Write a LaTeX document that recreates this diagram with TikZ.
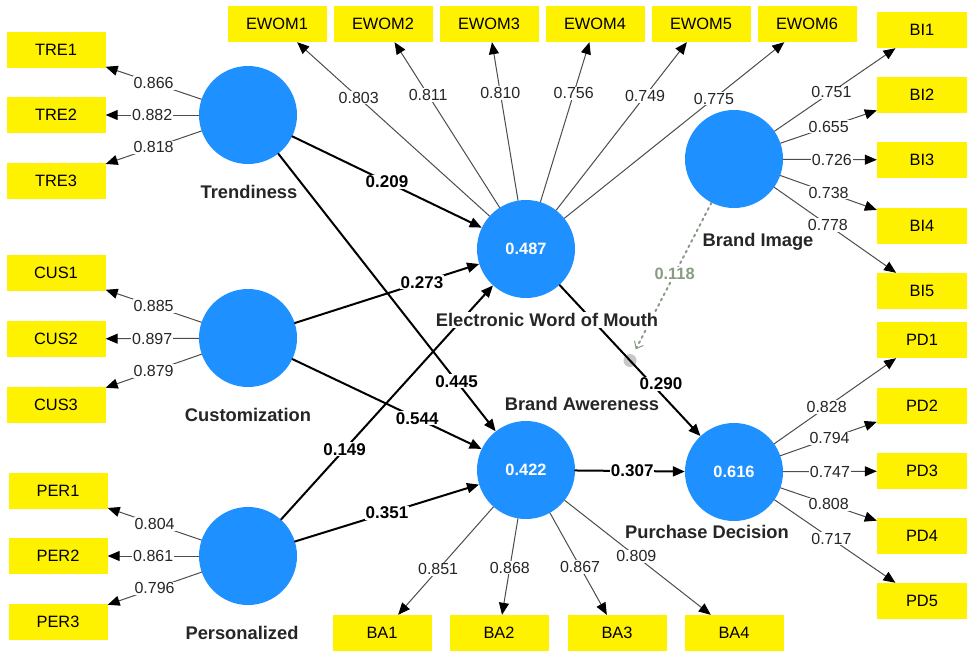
\documentclass[tikz,border=0pt]{standalone}
\usepackage{fontspec}
\setmainfont{Liberation Sans}
\usetikzlibrary{arrows.meta,calc}
\definecolor{plsblue}{RGB}{30,144,255}
\definecolor{modgreen}{RGB}{136,156,132}
\begin{document}
\begin{tikzpicture}[x=1pt, y=-1pt, line cap=round, line join=round, >={Triangle[length=12pt,width=10pt,color=black]}]
	\tikzset{lat/.style={circle, fill=plsblue, minimum size=98pt, inner sep=0pt, text=white, font=\bfseries\fontsize{16.4}{18}\selectfont},
		ind/.style={rectangle, fill=yellow, minimum width=99pt, minimum height=36pt, inner sep=0pt, font=\fontsize{16.4}{18}\selectfont},
		indr/.style={ind, minimum width=90pt},
		load/.style={draw=black!70, line width=1pt},
		struct/.style={draw=black, line width=2pt},
		val/.style={fill=white, inner sep=1pt, text=black!85, font=\fontsize{16}{18}\selectfont},
		coef/.style={fill=white, inner sep=1pt, font=\bfseries\fontsize{17}{19}\selectfont},
		latname/.style={fill=white, inner sep=1pt, text=black!85, font=\bfseries\fontsize{18.3}{20}\selectfont}}
	\useasboundingbox (0,0) rectangle (967,651);
	\node[lat] (tre) at (248,115) {};
	\node[lat] (cus) at (248,338) {};
	\node[lat] (per) at (248,556) {};
	\node[lat] (ewom) at (526,249) {0.487};
	\node[lat] (ba) at (526,470) {0.422};
	\node[lat] (pd) at (734,472) {0.616};
	\node[lat] (bi) at (734,159) {};
	\node[circle, fill=black!22, minimum size=13pt, inner sep=0pt] (mod) at ($(ewom)!0.5!(pd)$) {};
	\foreach \i/\y/\v in {1/50/0.866, 2/115/0.882, 3/181/0.818}{
		\node[ind] (tre\i) at (56,\y) {TRE\i};
		\draw[load,->] (tre) -- node[val]{\v} (tre\i);
	}
	\foreach \i/\y/\v in {1/273/0.885, 2/339/0.897, 3/405/0.879}{
		\node[ind] (cus\i) at (56,\y) {CUS\i};
		\draw[load,->] (cus) -- node[val]{\v} (cus\i);
	}
	\foreach \i/\y/\v in {1/491/0.804, 2/556/0.861, 3/622/0.796}{
		\node[ind] (per\i) at (58,\y) {PER\i};
		\draw[load,->] (per) -- node[val]{\v} (per\i);
	}
	\foreach \i/\x/\v in {1/277/0.803, 2/383/0.811, 3/489/0.810, 4/595/0.756, 5/701/0.749, 6/807/0.775}{
		\node[ind] (ewom\i) at (\x,24) {EWOM\i};
		\draw[load,->] (ewom) -- node[val,pos=0.68]{\v} (ewom\i);
	}
	\foreach \i/\y/\v/\p in {1/30/0.751/0.47, 2/95/0.655/0.5, 3/160/0.726/0.52, 4/226/0.738/0.5, 5/291/0.778/0.44}{
		\node[indr] (bi\i) at (922,\y) {BI\i};
		\draw[load,->] (bi) -- node[val,pos=\p]{\v} (bi\i);
	}
	\foreach \i/\y/\v/\p in {1/340/0.828/0.43, 2/406/0.794/0.51, 3/471/0.747/0.5, 4/536/0.808/0.5, 5/601/0.717/0.47}{
		\node[indr] (pd\i) at (922,\y) {PD\i};
		\draw[load,->] (pd) -- node[val,pos=\p]{\v} (pd\i);
	}
	\foreach \i/\x/\v/\p in {1/382/0.851/0.58, 2/499/0.868/0.51, 3/617/0.867/0.53, 4/734/0.809/0.49}{
		\node[ind] (ba\i) at (\x,633) {BA\i};
		\draw[load,->] (ba) -- node[val,pos=\p]{\v} (ba\i);
	}
	\draw[struct,->] (tre) -- node[coef]{0.209} (ewom);
	\draw[struct,->] (tre) -- node[coef,pos=0.82]{0.445} (ba);
	\draw[struct,->] (cus) -- node[coef,pos=0.69]{0.273} (ewom);
	\draw[struct,->] (cus) -- node[coef,pos=0.66]{0.544} (ba);
	\draw[struct,->] (per) -- node[coef,pos=0.3]{0.149} (ewom);
	\draw[struct,->] (per) -- node[coef]{0.351} (ba);
	\draw[struct,->] (ewom) -- node[coef,pos=0.72,yshift=10pt]{0.290} (pd);
	\draw[struct,->] (ba) -- node[coef,pos=0.52]{0.307} (pd);
	\draw[modgreen, line width=2pt, dash pattern=on 2pt off 4pt, shorten >=6pt, -{Straight Barb[length=6pt,width=10pt,line width=1pt]}] (bi) -- node[pos=0.47, fill=white, inner sep=1pt, text=modgreen, font=\bfseries\fontsize{16.4}{18}\selectfont]{0.118} (mod);
	\node[latname] (trename) at (249,192) {Trendiness};
	\node[latname] (cusname) at (248,415) {Customization};
	\node[latname] (pername) at (242,633) {Personalized};
	\node[latname] (ewomname) at (547,320) {Electronic Word of Mouth};
	\node[latname] (baname) at (582,404) {Brand Awereness};
	\node[latname] (pdname) at (707,532) {Purchase Decision};
	\node[latname] (biname) at (758,242) {Brand Image};
\end{tikzpicture}
\end{document}
